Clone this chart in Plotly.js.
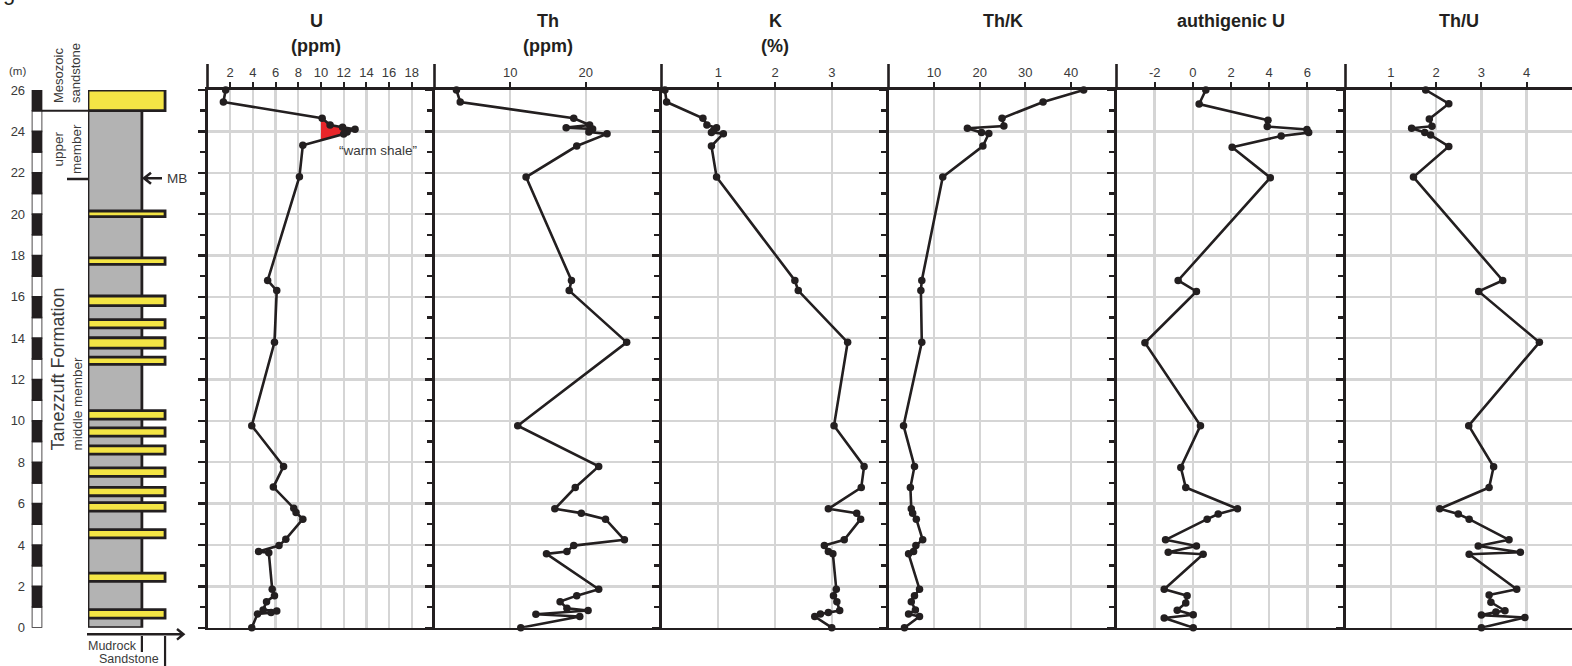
<!DOCTYPE html>
<html>
<head>
<meta charset="utf-8">
<script src="https://cdn.plot.ly/plotly-3.0.1.min.js"></script>
<style>
  html, body { margin: 0; padding: 0; background: #ffffff; }
  #chart { width: 1572px; height: 666px; }
</style>
</head>
<body>
<div id="chart"></div>
<script>
// ---------- Gamma-ray spectrometry profile, Tanezzuft Formation ----------

// Uranium (ppm) against depth (m)
const uDepth = [26.0, 25.42, 24.63, 24.31, 24.2, 24.1, 23.97, 23.87, 23.33, 21.81, 16.79, 16.3, 13.8, 9.77, 7.8, 6.8, 5.78, 5.57, 5.25, 4.28, 3.97, 3.68, 3.63, 1.86, 1.55, 1.26, 0.86, 0.81, 0.73, 0.66, 0.0];
const uPpm   = [1.6, 1.4, 10.1, 10.8, 11.9, 13.0, 12.3, 12.0, 8.4, 8.1, 5.3, 6.1, 5.9, 3.9, 6.7, 5.8, 7.6, 7.8, 8.4, 6.9, 6.3, 4.5, 5.4, 5.7, 5.9, 5.2, 4.9, 6.1, 5.6, 4.4, 3.9];

// Thorium (ppm)
const thDepth = [26.0, 25.42, 24.63, 24.31, 24.18, 24.12, 23.97, 23.88, 23.29, 21.79, 16.79, 16.3, 13.8, 9.77, 7.8, 6.78, 5.75, 5.54, 5.25, 4.25, 3.97, 3.68, 3.57, 1.86, 1.55, 1.26, 0.94, 0.83, 0.65, 0.54, 0.0];
const thPpm   = [2.9, 3.4, 18.4, 20.5, 17.4, 20.9, 20.4, 22.8, 18.8, 12.1, 18.1, 17.8, 25.4, 11.0, 21.7, 18.6, 15.9, 19.4, 22.6, 25.1, 18.4, 17.5, 14.8, 21.7, 18.8, 16.6, 17.5, 20.3, 13.4, 19.2, 11.4];

// Potassium (%)
const kDepth = [26.0, 25.42, 24.63, 24.31, 24.18, 24.05, 23.95, 23.89, 23.29, 21.79, 16.79, 16.3, 13.8, 9.77, 7.8, 6.78, 5.75, 5.54, 5.25, 4.25, 3.97, 3.68, 3.57, 1.86, 1.55, 1.26, 0.83, 0.73, 0.66, 0.54, 0.0];
const kPct   = [0.06, 0.09, 0.73, 0.80, 0.97, 0.92, 0.88, 1.09, 0.88, 0.97, 2.35, 2.41, 3.28, 3.04, 3.57, 3.52, 2.94, 3.44, 3.51, 3.22, 2.87, 2.94, 3.02, 3.08, 3.03, 3.09, 3.14, 2.94, 2.80, 2.70, 3.0];

// Th/K ratio
const thkDepth = [26.0, 25.42, 24.63, 24.26, 24.15, 23.94, 23.9, 23.29, 21.79, 16.79, 16.3, 13.8, 9.77, 7.8, 6.78, 5.75, 5.54, 5.25, 4.25, 3.97, 3.68, 3.57, 1.86, 1.55, 1.26, 0.86, 0.66, 0.54, 0.0];
const thkRatio = [42.8, 33.9, 24.9, 25.3, 17.3, 20.4, 22.0, 20.7, 11.9, 7.3, 7.1, 7.3, 3.3, 5.7, 4.8, 5.0, 5.3, 6.1, 7.5, 6.0, 5.5, 4.4, 6.8, 5.7, 5.0, 5.9, 4.4, 6.8, 3.5];

// Authigenic uranium
const auDepth = [26.0, 25.32, 24.54, 24.23, 24.09, 23.94, 23.78, 23.23, 21.76, 16.79, 16.26, 13.78, 9.77, 7.75, 6.78, 5.75, 5.5, 5.25, 4.25, 3.95, 3.65, 3.55, 1.86, 1.55, 1.2, 0.84, 0.63, 0.47, 0.0];
const auValue = [0.68, 0.33, 3.94, 3.9, 5.98, 6.07, 4.63, 2.06, 4.06, -0.77, 0.19, -2.51, 0.40, -0.63, -0.37, 2.34, 1.33, 0.75, -1.43, 0.19, -1.29, 0.54, -1.5, -0.30, -0.37, -0.82, 0.02, -1.5, 0.02];

// Th/U ratio
const thuDepth = [26.0, 25.34, 24.6, 24.25, 24.15, 23.95, 23.82, 23.27, 21.79, 16.79, 16.26, 13.8, 9.77, 7.78, 6.78, 5.75, 5.5, 5.25, 4.25, 3.95, 3.65, 3.55, 1.86, 1.58, 1.23, 0.82, 0.76, 0.61, 0.49, 0.0];
const thuRatio = [1.77, 2.28, 1.85, 1.91, 1.46, 1.75, 1.88, 2.28, 1.5, 3.47, 2.94, 4.28, 2.72, 3.27, 3.17, 2.08, 2.49, 2.73, 3.61, 2.93, 3.86, 2.73, 3.78, 3.17, 3.21, 3.52, 3.32, 3.0, 3.96, 3.0];

// Tick labels along the top of each panel
const uTicks   = [2, 4, 6, 8, 10, 12, 14, 16, 18];
const thTicks  = [10, 20];
const kTicks   = [1, 2, 3];
const thkTicks = [10, 20, 30, 40];
const auTicks  = [-2, 0, 2, 4, 6];
const auTickText = ['-2', '0', '2', '4', '6'];
const thuTicks = [1, 2, 3, 4];
const depthTicks = [0, 2, 4, 6, 8, 10, 12, 14, 16, 18, 20, 22, 24, 26];

// Lithological log: sandstone beds (base / top, m) within the mudrock column
const sandBase = [25.0, 19.88, 17.57, 15.57, 14.5, 13.52, 12.73, 10.09, 9.26, 8.39, 7.32, 6.38, 5.64, 4.34, 2.24, 0.46];
const sandTop  = [26.0, 20.15, 17.88, 16.04, 14.9, 14.02, 13.08, 10.5, 9.66, 8.79, 7.73, 6.79, 6.05, 4.74, 2.64, 0.87];
const mudrockTop = 25.0;
const grainSize = { Mudrock: 1.0, Sandstone: 1.43 };
const warmShaleU = 10;   // U threshold for the "warm shale"

// ---------- page geometry ----------
const W = 1572, H = 666;
const px = x => x / W;
const py = y => 1 - y / H;
const INK = '#231f20';
const GRID = '#d5d5d5';
const LABEL = '#3a3a3a';
const FONT = 'Liberation Sans, Arial, sans-serif';
const plotTop = 90, plotBottom = 627.7;
const yDomain = [py(plotBottom), py(plotTop)];
const edges = [207.5, 434.5, 661.5, 888.5, 1116.5, 1345.5, 1572];

// ---------- warm shale fill: part of the U curve above the threshold ----------
function aboveThreshold(values, depths, threshold) {
  const xs = [], ys = [];
  for (let i = 0; i < values.length; i++) {
    if (i > 0) {
      const pv = values[i - 1], pd = depths[i - 1];
      if ((pv - threshold) * (values[i] - threshold) < 0) {
        const t = (threshold - pv) / (values[i] - pv);
        xs.push(threshold);
        ys.push(pd + t * (depths[i] - pd));
      }
    }
    if (values[i] >= threshold) { xs.push(values[i]); ys.push(depths[i]); }
  }
  return { xs, ys };
}
const warm = aboveThreshold(uPpm, uDepth, warmShaleU);

const traces = [{
  type: 'scatter', mode: 'lines', x: warm.xs, y: warm.ys,
  xaxis: 'x', yaxis: 'y', fill: 'toself', fillcolor: '#e8262a',
  line: { width: 0, color: '#e8262a' }, hoverinfo: 'skip', showlegend: false
}];

const series = [
  [uPpm, uDepth], [thPpm, thDepth], [kPct, kDepth],
  [thkRatio, thkDepth], [auValue, auDepth], [thuRatio, thuDepth]
];
series.forEach(([xv, yv], i) => {
  const n = i === 0 ? '' : String(i + 1);
  traces.push({
    type: 'scatter', mode: 'lines+markers', x: xv, y: yv,
    xaxis: 'x' + n, yaxis: 'y' + n, cliponaxis: false,
    line: { color: INK, width: 2.6 },
    marker: { color: INK, size: 7.5 },
    hoverinfo: 'skip', showlegend: false
  });
});

// ---------- axes ----------
const layout = {
  width: W, height: H, autosize: false,
  margin: { l: 0, r: 0, t: 0, b: 0, pad: 0 },
  paper_bgcolor: '#ffffff', plot_bgcolor: 'rgba(0,0,0,0)',
  font: { family: FONT, color: LABEL },
  showlegend: false,
  shapes: [], annotations: []
};

const ranges = [[0, 20], [0, 30], [0, 4], [0, 50], [-4, 8], [0, 5]];
const tickSets = [uTicks, thTicks, kTicks, thkTicks, auTicks, thuTicks];
for (let i = 0; i < 6; i++) {
  const n = i === 0 ? '' : String(i + 1);
  const xa = {
    domain: [px(edges[i]), px(edges[i + 1])], range: ranges[i],
    anchor: 'y' + n, side: 'top',
    showline: true, mirror: true, linecolor: INK, linewidth: 2.6,
    ticks: 'outside', ticklen: 5, tickwidth: 2, tickcolor: INK,
    tickmode: 'array', tickvals: tickSets[i],
    tickfont: { size: 13, color: LABEL, family: FONT },
    showgrid: true, gridcolor: GRID, gridwidth: 2.4, zeroline: false,
    fixedrange: true
  };
  if (i === 4) xa.ticktext = auTickText;
  const ya = {
    domain: yDomain, range: [0, 26], anchor: 'x' + n, side: 'left',
    showline: true, linecolor: INK, linewidth: 2.6,
    ticks: 'outside', ticklen: 7, tickwidth: 2.4, tickcolor: INK,
    tick0: 0, dtick: 2, showticklabels: false,
    minor: { tick0: 0, dtick: 1, ticks: 'outside', ticklen: 5, tickwidth: 2.4, tickcolor: INK, showgrid: false },
    showgrid: true, gridcolor: GRID, gridwidth: 2.4, zeroline: false,
    fixedrange: true
  };
  layout['xaxis' + n] = xa;
  layout['yaxis' + n] = ya;
  // panel borders rise above the top line, up to the tick labels
  layout.shapes.push({
    type: 'line', xref: 'x' + n + ' domain', yref: 'paper',
    x0: 0, x1: 0, y0: py(plotTop), y1: py(64),
    line: { color: INK, width: 2.6 }
  });
}

// lithology log axis (grain size) and depth scale-bar axis
layout.xaxis7 = { domain: [px(88), px(185)], range: [0, 1.8], anchor: 'y7', visible: false, fixedrange: true };
layout.xaxis8 = { domain: [px(31.7), px(42.3)], range: [0, 1], anchor: 'y7', visible: false, fixedrange: true };
layout.yaxis7 = {
  domain: yDomain, range: [0, 26], anchor: 'x8', side: 'left',
  showline: false, showgrid: false, zeroline: false,
  tickmode: 'array', tickvals: depthTicks,
  ticks: 'outside', ticklen: 3, tickcolor: 'rgba(0,0,0,0)',
  tickfont: { size: 13, color: LABEL, family: FONT }, fixedrange: true
};

// depth scale bar: alternating 1 m blocks
for (let m = 0; m < 26; m++) {
  layout.shapes.push({
    type: 'rect', xref: 'x8', yref: 'y7', x0: 0, x1: 1, y0: m, y1: m + 1,
    fillcolor: m % 2 === 1 ? INK : '#ffffff', line: { color: INK, width: 1.6 }
  });
}

// mudrock column and sandstone beds
layout.shapes.push({
  type: 'rect', xref: 'x7', yref: 'y7', x0: 0, x1: grainSize.Mudrock, y0: 0, y1: mudrockTop,
  fillcolor: '#b3b3b3', line: { color: INK, width: 2.8 }
});
sandBase.forEach((b, i) => {
  layout.shapes.push({
    type: 'rect', xref: 'x7', yref: 'y7', x0: 0, x1: grainSize.Sandstone, y0: b, y1: sandTop[i],
    fillcolor: '#f4e545', line: { color: INK, width: 2.8 }
  });
});

// member boundaries
layout.shapes.push({ type: 'line', xref: 'paper', yref: 'y7', x0: px(42), x1: px(88), y0: 25, y1: 25, line: { color: INK, width: 2 } });
layout.shapes.push({ type: 'line', xref: 'paper', yref: 'y7', x0: px(67), x1: px(88), y0: 21.7, y1: 21.7, line: { color: INK, width: 2.4 } });

// MB arrow
const mbY = 178.3;
layout.shapes.push({
  type: 'path', xref: 'paper', yref: 'paper',
  path: `M ${px(162)} ${py(mbY)} L ${px(144)} ${py(mbY)} M ${px(151)} ${py(mbY - 5.5)} L ${px(144)} ${py(mbY)} L ${px(151)} ${py(mbY + 5.5)}`,
  line: { color: INK, width: 2.6 }
});

// grain-size arrow below the log
layout.shapes.push({
  type: 'path', xref: 'paper', yref: 'paper',
  path: `M ${px(87)} ${py(634.3)} L ${px(183.5)} ${py(634.3)} M ${px(177)} ${py(629)} L ${px(183.5)} ${py(634.3)} L ${px(177)} ${py(639.6)}`,
  line: { color: INK, width: 2.4 }
});
layout.shapes.push({ type: 'line', xref: 'x7', yref: 'paper', x0: grainSize.Mudrock, x1: grainSize.Mudrock, y0: py(636), y1: py(652), line: { color: INK, width: 2.2 } });
layout.shapes.push({ type: 'line', xref: 'x7', yref: 'paper', x0: grainSize.Sandstone, x1: grainSize.Sandstone, y0: py(636), y1: py(667), line: { color: INK, width: 2.2 } });

// ---------- text ----------
function note(text, x, y, opts) {
  layout.annotations.push(Object.assign({
    text, x: px(x), y: py(y), xref: 'paper', yref: 'paper',
    showarrow: false, xanchor: 'center', yanchor: 'middle',
    font: { family: FONT, size: 13, color: LABEL }
  }, opts || {}));
}

// panel titles
const titleFont = { family: FONT, size: 18, color: INK };
const titles = [['<b>U</b>', '<b>(ppm)</b>'], ['<b>Th</b>', '<b>(ppm)</b>'], ['<b>K</b>', '<b>(%)</b>'], ['<b>Th/K</b>'], ['<b>authigenic U</b>'], ['<b>Th/U</b>']];
titles.forEach((lines, i) => {
  const n = i === 0 ? '' : String(i + 1);
  lines.forEach((t, j) => {
    layout.annotations.push({
      text: t, xref: 'x' + n + ' domain', yref: 'paper', x: i === 0 ? 0.48 : 0.5, y: py(j === 0 ? 21.5 : 46),
      showarrow: false, xanchor: 'center', yanchor: 'middle', font: titleFont
    });
  });
});

note('“warm shale”', 337, 150, { xanchor: 'left', font: { family: FONT, size: 13.5, color: LABEL } });
note('(m)', 17.5, 71, { font: { family: FONT, size: 11.5, color: LABEL } });
note('MB', 165, mbY, { xanchor: 'left', font: { family: FONT, size: 13.5, color: LABEL } });
note('Mesozoic<br>sandstone', 67, 105, { textangle: -90, yanchor: 'bottom', align: 'left', font: { family: FONT, size: 13, color: LABEL } });
note('upper<br>member', 67, 149, { textangle: -90, font: { family: FONT, size: 13.5, color: LABEL } });
note('Tanezzuft Formation', 57, 453, { textangle: -90, yanchor: 'bottom', font: { family: FONT, size: 18, color: LABEL } });
note('middle member', 76.5, 453, { textangle: -90, yanchor: 'bottom', font: { family: FONT, size: 13.5, color: LABEL } });
note('Mudrock', 139, 646, { xanchor: 'right', font: { family: FONT, size: 12.5, color: LABEL } });
note('Sandstone', 161, 658.5, { xanchor: 'right', font: { family: FONT, size: 12.5, color: LABEL } });
// figure panel letter, mostly above the top edge
note('g', 1, 7, { xanchor: 'left', yanchor: 'bottom', font: { family: FONT, size: 22, color: INK } });

Plotly.newPlot('chart', traces, layout, { staticPlot: true, displayModeBar: false });
</script>
</body>
</html>
